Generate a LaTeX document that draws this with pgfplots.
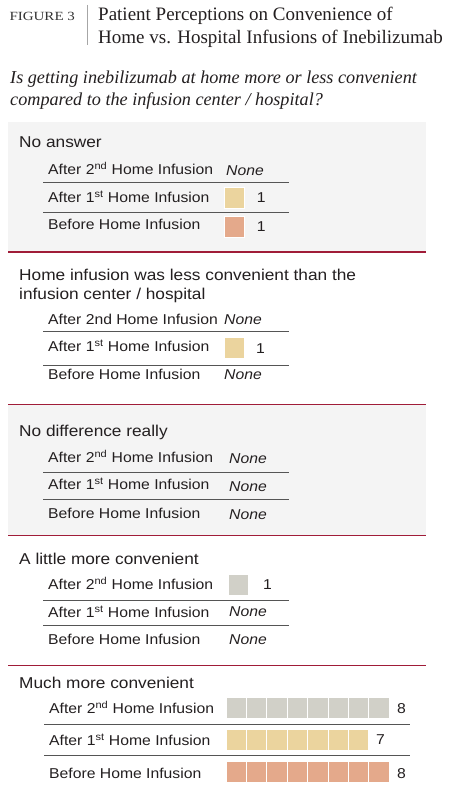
\documentclass[border=0pt]{standalone}
\usepackage{fontspec}
\setmainfont{Liberation Sans}[FakeStretch=1.1]
\newfontfamily\serif{Liberation Serif}
\usepackage{graphicx}
\usepackage{pgfplots}
\pgfplotsset{compat=1.18}
\definecolor{bggray}{HTML}{F4F4F4}
\definecolor{redline}{HTML}{A01C38}
\definecolor{sepline}{HTML}{555555}
\definecolor{txt}{HTML}{231F20}
\definecolor{cgray}{HTML}{D1D0C8}
\definecolor{ctan}{HTML}{EBD49E}
\definecolor{csalmon}{HTML}{E4A98B}
\pgfplotsset{cell/.style={only marks, mark=square*, mark size=10.5pt,
  mark options={draw=white, line width=0.9pt, fill=#1, xscale=0.972}}}
\newcommand{\hdr}{\fontsize{15.7}{18}\selectfont}
\newcommand{\rowf}{\fontsize{14.3}{17}\selectfont}
\newcommand{\nd}{\textsuperscript{nd}}
\newcommand{\st}{\textsuperscript{st}}
\begin{document}
\begin{tikzpicture}[every node/.style={inner sep=0pt, text=txt}]
\begin{scope}[x=1pt,y=-1pt,yshift=793pt]
 \fill[white] (0,0) rectangle (450,793);
 \fill[bggray] (8,122) rectangle (426,252);
 \fill[bggray] (8,404) rectangle (426,536);
 % red section lines
 \foreach \yy in {252,404.3,535.7,665.5}{\draw[redline, line width=1.3pt] (8,\yy) -- (426,\yy);}
 % row separators
 \foreach \yy in {182.7,212.5,331,365.7,472.3,499.3,600.7,625.7}{\draw[sepline, line width=0.8pt] (43,\yy) -- (289,\yy);}
 \foreach \yy in {724,755.7}{\draw[sepline, line width=0.8pt] (44,\yy) -- (410,\yy);}
 % title block
 \draw[black!35, line width=0.8pt] (87.3,5) -- (87.3,45);
 \node[anchor=base west, text=black!80] at (9.3,20.5) {\serif\fontsize{12.5}{14}\selectfont\scalebox{1.2}[1]{FIGURE 3}};
 \node[anchor=base west] at (98,21) {\serif\fontsize{19}{22}\selectfont Patient Perceptions on Convenience of};
 \node[anchor=base west] at (98,43.5) {\serif\fontsize{19}{22}\selectfont Home vs. Hospital Infusions of Inebilizumab};
 \node[anchor=base west] at (10,84) {\serif\itshape\fontsize{18.2}{22}\selectfont Is getting inebilizumab at home more or less convenient};
 \node[anchor=base west] at (10,106) {\serif\itshape\fontsize{18.2}{22}\selectfont compared to the infusion center / hospital?};
 % section 1
 \node[anchor=base west] at (19,147.5) {\hdr No answer};
 \node[anchor=base west] at (48,175) {\rowf After 2\nd{} Home Infusion};
 \node[anchor=base west] at (48,202.3) {\rowf After 1\st{} Home Infusion};
 \node[anchor=base west] at (48,230) {\rowf Before Home Infusion};
 \node[anchor=base west] at (226,175.7) {\rowf\itshape None};
 \node[anchor=base west] at (256.7,203) {\rowf 1};
 \node[anchor=base west] at (256.7,231.5) {\rowf 1};
 % section 2
 \node[anchor=base west] at (19,280.5) {\hdr Home infusion was less convenient than the};
 \node[anchor=base west] at (19,299.5) {\hdr infusion center / hospital};
 \node[anchor=base west] at (48,325) {\rowf After 2nd Home Infusion};
 \node[anchor=base west] at (48,351.7) {\rowf After 1\st{} Home Infusion};
 \node[anchor=base west] at (48,379.3) {\rowf Before Home Infusion};
 \node[anchor=base west] at (224,325) {\rowf\itshape None};
 \node[anchor=base west] at (224,380) {\rowf\itshape None};
 \node[anchor=base west] at (256,354) {\rowf 1};
 % section 3
 \node[anchor=base west] at (19,436.7) {\hdr No difference really};
 \node[anchor=base west] at (48,462.3) {\rowf After 2\nd{} Home Infusion};
 \node[anchor=base west] at (48,490) {\rowf After 1\st{} Home Infusion};
 \node[anchor=base west] at (48,518.3) {\rowf Before Home Infusion};
 \node[anchor=base west] at (229,464) {\rowf\itshape None};
 \node[anchor=base west] at (229,491.5) {\rowf\itshape None};
 \node[anchor=base west] at (229,519.5) {\rowf\itshape None};
 % section 4
 \node[anchor=base west] at (19,565) {\hdr A little more convenient};
 \node[anchor=base west] at (48,590) {\rowf After 2\nd{} Home Infusion};
 \node[anchor=base west] at (48,617.3) {\rowf After 1\st{} Home Infusion};
 \node[anchor=base west] at (48,645) {\rowf Before Home Infusion};
 \node[anchor=base west] at (229,616.7) {\rowf\itshape None};
 \node[anchor=base west] at (229,644.3) {\rowf\itshape None};
 \node[anchor=base west] at (263,590) {\rowf 1};
 % section 5
 \node[anchor=base west] at (19,688.3) {\hdr Much more convenient};
 \node[anchor=base west] at (49,714) {\rowf After 2\nd{} Home Infusion};
 \node[anchor=base west] at (49,746) {\rowf After 1\st{} Home Infusion};
 \node[anchor=base west] at (49,778.3) {\rowf Before Home Infusion};
 \node[anchor=base west] at (397,713.5) {\rowf 8};
 \node[anchor=base west] at (376,745) {\rowf 7};
 \node[anchor=base west] at (397,778) {\rowf 8};
\end{scope}
\begin{axis}[at={(226pt,0pt)}, anchor=south west, scale only axis,
  width=163.2pt, height=793pt, xmin=0, xmax=8, ymin=0, ymax=793,
  y dir=reverse, axis lines=none, ticks=none, clip=false]
 % one square per patient
 % No answer
 \addplot[cell=ctan] coordinates {(0.4,197.5)};
 \addplot[cell=csalmon] coordinates {(0.4,227.2)};
 % Less convenient
 \addplot[cell=ctan] coordinates {(0.4,348.2)};
 % A little more convenient
 \addplot[cell=cgray] coordinates {(0.6,584.8)};
 % Much more convenient
 \addplot[cell=cgray] coordinates {(0.5,708.3) (1.5,708.3) (2.5,708.3) (3.5,708.3) (4.5,708.3) (5.5,708.3) (6.5,708.3) (7.5,708.3)};
 \addplot[cell=ctan] coordinates {(0.5,739.5) (1.5,739.5) (2.5,739.5) (3.5,739.5) (4.5,739.5) (5.5,739.5) (6.5,739.5)};
 \addplot[cell=csalmon] coordinates {(0.5,772.2) (1.5,772.2) (2.5,772.2) (3.5,772.2) (4.5,772.2) (5.5,772.2) (6.5,772.2) (7.5,772.2)};
\end{axis}
\end{tikzpicture}
\end{document}
